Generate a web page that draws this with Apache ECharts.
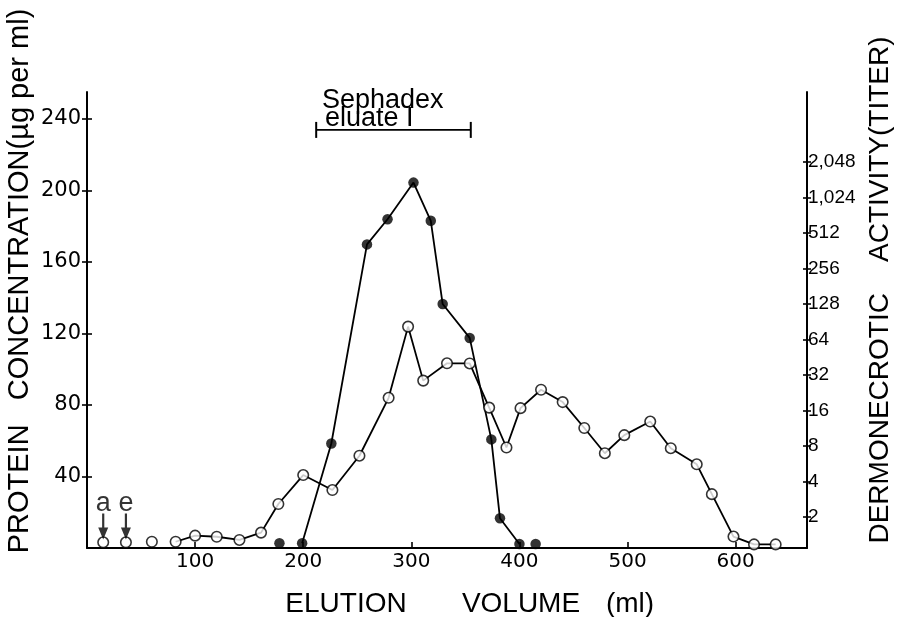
<!DOCTYPE html>
<html>
<head>
<meta charset="utf-8">
<script src="https://cdn.jsdelivr.net/npm/echarts@6/dist/echarts.min.js"></script>
<style>
  html, body { margin: 0; padding: 0; background: #fff; }
  #chart { width: 901px; height: 617px; }
</style>
</head>
<body>
<div id="chart"></div>
<script>
// ---- data ----
// open circles: protein concentration (µg per ml), left linear axis
const volProtein = [15, 36, 60, 82, 100, 120, 141, 161, 177, 200, 227, 252, 279, 297, 311, 333, 354, 372, 388, 401, 420, 440, 460, 479, 497, 521, 540, 564, 578, 598, 617, 637];
const protein    = [3.2, 3.2, 3.5, 3.5, 6.9, 6.3, 4.5, 8.6, 24.6, 40.8, 32.4, 51.6, 84.0, 123.8, 93.6, 103.3, 103.2, 78.5, 56.2, 78.2, 88.5, 81.6, 67.1, 53.0, 63.1, 70.7, 55.8, 46.8, 30.1, 6.4, 2.0, 2.0];
const proteinLineFrom = 3;            // line joins points from this index on
// filled circles: dermonecrotic activity (titer), right log2 axis
const volTiter = [178, 199, 226, 259, 278, 302, 318, 329, 354, 374, 382, 400, 415];
const titer    = [1.2, 1.2, 8.4, 410, 670, 1370, 650, 128, 66, 9.1, 1.95, 1.18, 1.18];
const titerLineFrom = 1, titerLineTo = 11;
// ticks
const xTicks = [100, 200, 300, 400, 500, 600];
const leftTicks = [40, 80, 120, 160, 200, 240];
const rightTicks = [2, 4, 8, 16, 32, 64, 128, 256, 512, 1024, 2048];
// annotations
const eluateRange = [212, 355];
const eluateLevel = 233.8;
const markerVol = [15, 36];
const markerLevel = 12.0;
const markerLabels = ['a', 'e'];

const proteinPts = volProtein.map((v, i) => [v, protein[i]]);
const titerPts = volTiter.map((v, i) => [v, titer[i]]);

const chart = echarts.init(document.getElementById('chart'), null, { renderer: 'canvas' });
const black = '#000';
const tickFont = 'DejaVu Sans';
const nameFont = 'Liberation Sans';

const leftScale = { type: 'value', min: 0, max: 255 };
const rightScale = { type: 'log', logBase: 2, min: 1.092, max: 8034 };

chart.setOption({
  animation: false,
  backgroundColor: '#fff',
  grid: { left: 87, right: 94, top: 92, bottom: 69 },
  xAxis: {
    type: 'value', min: 0, max: 666,
    axisLine: { show: true, lineStyle: { color: black, width: 2 } },
    axisTick: { show: true, inside: true, length: 6, lineStyle: { color: black, width: 1.6 }, customValues: xTicks },
    axisLabel: { show: true, customValues: xTicks, color: black, fontSize: 20, fontFamily: tickFont, margin: 4 },
    splitLine: { show: false }
  },
  yAxis: [
    Object.assign({}, leftScale, {
      position: 'left',
      axisLine: { show: true, lineStyle: { color: black, width: 2 } },
      axisTick: { show: true, inside: false, length: 5, lineStyle: { color: black, width: 1.6 }, customValues: leftTicks },
      axisLabel: { show: true, customValues: leftTicks, color: black, fontSize: 21, fontFamily: tickFont, margin: 6 },
      splitLine: { show: false }
    }),
    Object.assign({}, rightScale, {
      position: 'right',
      axisLine: { show: true, lineStyle: { color: black, width: 2 } },
      axisTick: { show: true, inside: false, length: 4, lineStyle: { color: black, width: 1.6 }, customValues: rightTicks },
      axisLabel: { show: true, customValues: rightTicks, color: black, fontSize: 19, fontFamily: nameFont, margin: 1,
        formatter: v => Math.round(v).toLocaleString('en-US') },
      splitLine: { show: false }
    }),
    Object.assign({}, leftScale, {
      position: 'left',
      axisLine: { show: false },
      axisTick: { show: true, inside: true, length: 5, lineStyle: { color: black, width: 1.6 }, customValues: leftTicks },
      axisLabel: { show: false },
      splitLine: { show: false }
    }),
    Object.assign({}, rightScale, {
      position: 'right',
      axisLine: { show: false },
      axisTick: { show: true, inside: true, length: 4, lineStyle: { color: black, width: 1.6 }, customValues: rightTicks },
      axisLabel: { show: false },
      splitLine: { show: false }
    })
  ],
  series: [
    {
      type: 'line', yAxisIndex: 0, data: proteinPts.slice(proteinLineFrom),
      showSymbol: false, lineStyle: { color: black, width: 1.8 }, z: 2, silent: true
    },
    {
      type: 'line', yAxisIndex: 1, data: titerPts.slice(titerLineFrom, titerLineTo + 1),
      showSymbol: false, lineStyle: { color: black, width: 1.8 }, z: 2, silent: true
    },
    {
      type: 'scatter', yAxisIndex: 0, data: proteinPts, symbol: 'circle', symbolSize: 10.5,
      itemStyle: { color: '#fff', borderColor: black, borderWidth: 1.6 }, z: 4
    },
    {
      type: 'scatter', yAxisIndex: 1, data: titerPts, symbol: 'circle', symbolSize: 10.5,
      itemStyle: { color: black }, z: 5
    },
    {
      // Sephadex eluate I bracket
      type: 'line', yAxisIndex: 0,
      data: eluateRange.map(v => [v, eluateLevel]),
      symbol: 'rect', symbolSize: [2, 16], showSymbol: true,
      itemStyle: { color: black }, lineStyle: { color: black, width: 1.8 }, z: 3
    },
    {
      // a / e arrows
      type: 'scatter', yAxisIndex: 0,
      data: markerVol.map(v => [v, markerLevel]),
      symbol: 'path://M3.9,0 L6.1,0 L6.1,14 L10,14 L5,26 L0,14 L3.9,14 Z',
      symbolSize: [10, 26],
      itemStyle: { color: black },
      label: { show: true, position: 'top', distance: -4, color: black, fontSize: 27, fontFamily: nameFont,
        formatter: p => markerLabels[p.dataIndex] },
      z: 6
    }
  ],
  graphic: [
    { type: 'text', x: 20, y: 281, rotation: Math.PI / 2,
      style: { text: 'PROTEIN   CONCENTRATION(\u00b5g per ml)', fontSize: 29, fontFamily: nameFont, fill: black, align: 'center', verticalAlign: 'middle' } },
    { type: 'text', x: 880, y: 290, rotation: Math.PI / 2,
      style: { text: 'DERMONECROTIC    ACTIVITY(TITER)', fontSize: 28, fontFamily: nameFont, fill: black, align: 'center', verticalAlign: 'middle' } },
    { type: 'text', x: 346, y: 604, style: { text: 'ELUTION', fontSize: 28, fontFamily: nameFont, fill: black, align: 'center', verticalAlign: 'middle' } },
    { type: 'text', x: 521, y: 604, style: { text: 'VOLUME', fontSize: 28, fontFamily: nameFont, fill: black, align: 'center', verticalAlign: 'middle' } },
    { type: 'text', x: 630, y: 604, style: { text: '(ml)', fontSize: 28, fontFamily: nameFont, fill: black, align: 'center', verticalAlign: 'middle' } },
    { type: 'text', x: 322, y: 101, style: { text: 'Sephadex', fontSize: 27, fontFamily: nameFont, fill: black, align: 'left', verticalAlign: 'middle' } },
    { type: 'text', x: 325, y: 119, style: { text: 'eluate I', fontSize: 27, fontFamily: nameFont, fill: black, align: 'left', verticalAlign: 'middle' } }
  ]
});
</script>
</body>
</html>
